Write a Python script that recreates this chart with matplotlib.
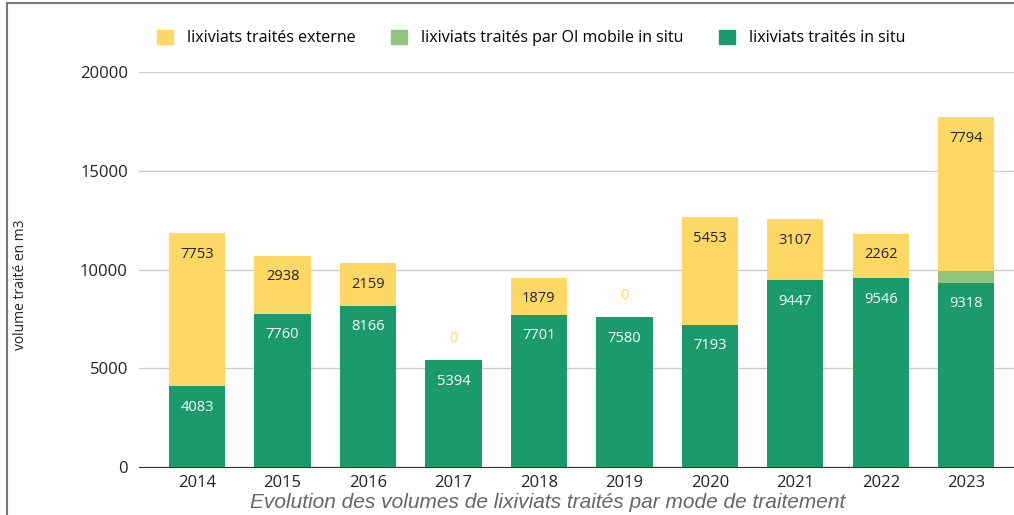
import matplotlib
matplotlib.use("Agg")
import matplotlib.pyplot as plt
from matplotlib.patches import Patch, Rectangle
import numpy as np

# data
years = ['2014', '2015', '2016', '2017', '2018', '2019', '2020', '2021', '2022', '2023']
in_situ = [4083, 7760, 8166, 5394, 7701, 7580, 7193, 9447, 9546, 9318]
oi_mobile = [0, 0, 0, 0, 0, 0, 0, 0, 0, 600]
externe = [7753, 2938, 2159, 0, 1879, 0, 5453, 3107, 2262, 7794]
legend_labels = ['lixiviats traités externe', 'lixiviats traités par OI mobile in situ',
                 'lixiviats traités in situ']

c_ext = '#FDD865'
c_oi = '#93C47D'
c_situ = '#1B9B6B'

plt.rcParams['font.family'] = ['Open Sans', 'DejaVu Sans']

fig = plt.figure(figsize=(10.14, 5.15), dpi=100)
ax = fig.add_axes([139/1014, 1 - 467/515, 1 - 139/1014, (467 - 72)/515])

x = np.arange(len(years))
w = 0.66
situ = np.array(in_situ)
oi = np.array(oi_mobile)
ext = np.array(externe)

ax.bar(x, situ, w, color=c_situ, zorder=3)
ax.bar(x, oi, w, bottom=situ, color=c_oi, zorder=3)
ax.bar(x, ext, w, bottom=situ + oi, color=c_ext, zorder=3)

px = 20000 / 395  # data units per pixel
for i in range(len(years)):
    ax.text(x[i], situ[i] - 21*px, str(situ[i]), ha='center', va='center',
            color='white', fontsize=10.5, zorder=4)
    top = situ[i] + oi[i] + ext[i]
    if ext[i] > 0:
        ax.text(x[i], top - 21*px, str(ext[i]), ha='center', va='center',
                color='#222222', fontsize=10.5, zorder=4)
    else:
        ax.text(x[i], top + 22*px, '0', ha='center', va='center',
                color=c_ext, fontsize=10.5, zorder=4)

ax.set_ylim(0, 20000)
ax.set_xlim(-0.68, 9.56)
ax.set_yticks([0, 5000, 10000, 15000, 20000])
ax.set_xticks(x)
ax.set_xticklabels(years)
ax.tick_params(axis='both', length=0, labelsize=12, colors='#222222')
ax.tick_params(axis='x', pad=6)
ax.tick_params(axis='y', pad=8)
ax.grid(axis='y', color='#cccccc', linewidth=1, zorder=0)
for s in ['top', 'right', 'left']:
    ax.spines[s].set_visible(False)
ax.spines['bottom'].set_color('#333333')
ax.spines['bottom'].set_zorder(5)
ax.set_ylabel('volume traité en m3', fontsize=10, color='#222222')
ax.yaxis.set_label_coords((28 - 139) / 875, (467 - 285) / 395)

handles = [Patch(color=c_ext), Patch(color=c_oi), Patch(color=c_situ)]
fig.legend(handles, legend_labels, loc='center', bbox_to_anchor=(531/1014, 1 - 38/515),
           ncol=3, frameon=False, fontsize=11.5, handlelength=1.0, handleheight=1.0,
           columnspacing=2.2, handletextpad=0.9)

fig.text(548/1014, 1 - 502/515, 'Evolution des volumes de lixiviats traités par mode de traitement',
         ha='center', va='center', fontsize=15, style='italic', color='#666666',
         family='Liberation Sans')

fig.patches.append(Rectangle((7/1014, -0.1), 1.2, 1 - 3/515 + 0.1, transform=fig.transFigure,
                             fill=False, edgecolor='#777777', linewidth=1.5))

fig.savefig('out.png', dpi=100)
